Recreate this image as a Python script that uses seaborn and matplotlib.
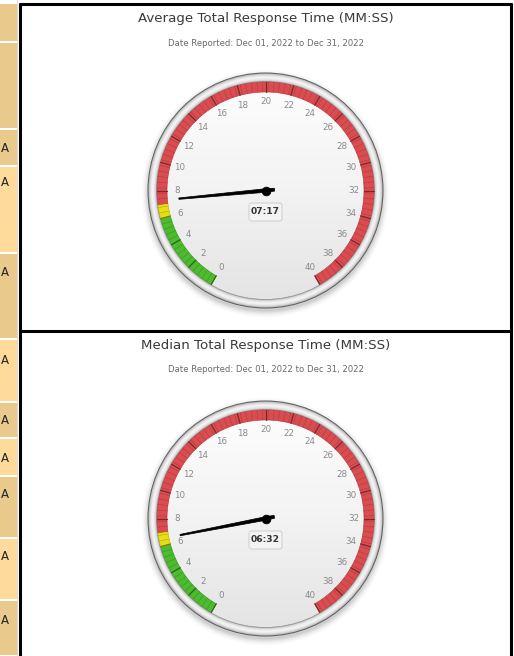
import numpy as np
import matplotlib
matplotlib.use("Agg")
import matplotlib.pyplot as plt
import seaborn as sns
from matplotlib.patches import Circle, FancyBboxPatch, Rectangle, Polygon

# ---------------- data ----------------
titles = ["Average Total Response Time (MM:SS)", "Median Total Response Time (MM:SS)"]
subtitles = ["Date Reported: Dec 01, 2022 to Dec 31, 2022",
             "Date Reported: Dec 01, 2022 to Dec 31, 2022"]
value_labels = ["07:17", "06:32"]
values_min = [7 + 17 / 60, 6 + 32 / 60]
scale_min, scale_max = 0, 40
tick_values = list(range(0, 41, 2))
band_starts = [0, 6, 7]
band_ends = [6, 7, 40]
band_colors = ["#4cbb2e", "#e6df14", "#dc4b4f"]

# left table strip (cut off)
strip_tops = [4, 43, 130, 167, 254, 340, 403, 439, 477, 539, 601]
strip_bottoms = [42, 129, 166, 253, 339, 402, 438, 476, 538, 600, 656]
strip_colors = ["#e9c98c", "#e9c98c", "#e9c98c", "#ffdb9b", "#e9c98c", "#ffdb9b",
                "#e9c98c", "#ffdb9b", "#e9c98c", "#ffdb9b", "#e9c98c"]
strip_letters = ["", "", "A", "A", "A", "A", "A", "A", "A", "A", "A"]
strip_letter_y = [0, 0, 148, 183, 273, 360, 420, 458, 495, 557, 620]

sns.set_theme(style="white")
plt.rcParams['font.family'] = ['DejaVu Sans']

W, H = 514, 656
fig = plt.figure(figsize=(W / 100, H / 100), dpi=100)
ax = fig.add_axes([0, 0, 1, 1])
ax.set_xlim(0, W)
ax.set_ylim(H, 0)
ax.axis("off")


def ang(v):
    # visual angle (deg, ccw, y up) for value v
    return 240.0 - (v - scale_min) * 300.0 / (scale_max - scale_min)


def pt(cx, cy, r, a):
    t = np.deg2rad(a)
    return cx + r * np.cos(t), cy - r * np.sin(t)


def arc_poly(cx, cy, r1, r2, a1, a2, n=30):
    t = np.linspace(a1, a2, n)
    xo, yo = pt(cx, cy, r2, t)
    xi, yi = pt(cx, cy, r1, t[::-1])
    return np.concatenate([xo, xi]), np.concatenate([yo, yi])


def shade(c, f):
    rgb = np.array(matplotlib.colors.to_rgb(c))
    return tuple(np.clip(rgb * f, 0, 1))


# ---- left strip ----
for top, bot, col, let, ly in zip(strip_tops, strip_bottoms, strip_colors, strip_letters, strip_letter_y):
    ax.add_patch(Rectangle((0, top), 16.5, bot - top - 1, facecolor=col, edgecolor="none", zorder=1))
    if let:
        ax.text(1.0, ly, let, fontsize=8.5, color="#222222", ha="left", va="center", zorder=2)
ax.add_patch(Rectangle((16.5, 0), 1.2, H, facecolor="#d9d9d9", edgecolor="none", zorder=1))

# ---- panel frame ----
ax.plot([20, 20], [3, H], color="black", lw=2.2, zorder=5, solid_capstyle="butt")
ax.plot([510.5, 510.5], [3, H], color="black", lw=2.2, zorder=5, solid_capstyle="butt")
ax.plot([19, 511.5], [3.5, 3.5], color="black", lw=2.2, zorder=5, solid_capstyle="butt")
ax.plot([19, 511.5], [330.5, 330.5], color="black", lw=2.2, zorder=5, solid_capstyle="butt")

panel_tops = [3, 330]
centers = [(265.5, 190.5), (265.5, 518.5)]

for k in range(2):
    cx, cy = centers[k]
    top = panel_tops[k]
    ax.text(265.5, top + 15.5, titles[k], fontsize=9.6, color="#3a3a3a", ha="center", va="center")
    ax.text(265.5, top + 40, subtitles[k], fontsize=6.1, color="#6a6a6a", ha="center", va="center")

    # shadow
    for i, a in enumerate(np.linspace(0.05, 0.01, 6)):
        ax.add_patch(Circle((cx, cy + 3), 118 + i * 1.2, facecolor="#000000", alpha=a,
                            edgecolor="none", zorder=2))
    # outer rim
    ax.add_patch(Circle((cx, cy), 118, facecolor="#5e5e5e", edgecolor="none", zorder=3))
    rim_r = np.linspace(117, 109.5, 9)
    rim_c = ["#bdbdbd", "#d6d6d6", "#e6e6e6", "#efefef", "#f4f4f4", "#eeeeee", "#e2e2e2", "#cfcfcf", "#b8b8b8"]
    for r, c in zip(rim_r, rim_c):
        ax.add_patch(Circle((cx, cy), r, facecolor=c, edgecolor="none", zorder=3))
    # face with gradient
    face = Circle((cx, cy), 109, facecolor="none", edgecolor="#9a9a9a", lw=0.6, zorder=4)
    ax.add_patch(face)
    grad = np.linspace(0, 1, 200)[:, None]
    cmap = matplotlib.colors.LinearSegmentedColormap.from_list("f", ["#fdfdfd", "#f3f3f3", "#e4e4e4"])
    im = ax.imshow(grad, extent=(cx - 109, cx + 109, cy + 109, cy - 109), cmap=cmap,
                   aspect="auto", zorder=3.5, interpolation="bilinear")
    im.set_clip_path(Circle((cx, cy), 108.7, transform=ax.transData))

    # colour bands, segmented
    seg = 0.4
    for s, e, col in zip(band_starts, band_ends, band_colors):
        v = s
        while v < e - 1e-9:
            v2 = min(v + seg, e)
            xs, ys = arc_poly(cx, cy, 98.5, 108.5, ang(v), ang(v2), n=6)
            ax.fill(xs, ys, facecolor=col, edgecolor=shade(col, 0.82), lw=0.45, zorder=5)
            v = v2
    # major ticks on band
    for tv in tick_values:
        for s, e, col in zip(band_starts, band_ends, band_colors):
            if s <= tv <= e:
                c = col
        x1, y1 = pt(cx, cy, 98.5, ang(tv))
        x2, y2 = pt(cx, cy, 108.5, ang(tv))
        ax.plot([x1, x2], [y1, y2], color=shade(c, 0.55), lw=0.9, zorder=6)

    # tick labels
    for tv in tick_values:
        x, y = pt(cx, cy, 88.5, ang(tv))
        ax.text(x, y, str(tv), fontsize=6.3, color="#8a8a8a", ha="center", va="center", zorder=7)

    # value box
    ax.add_patch(FancyBboxPatch((cx - 16.5, cy + 12.5), 33, 18,
                                boxstyle="round,pad=0,rounding_size=2.5",
                                facecolor="#f3f3f3", edgecolor="#d2d2d2", lw=0.8, zorder=7))
    ax.text(cx, cy + 21.5, value_labels[k], fontsize=6.6, fontweight="bold", color="#333333",
            ha="center", va="center", zorder=8)

    # needle
    a = ang(values_min[k])
    tx, ty = pt(cx, cy, 87, a)
    bx, by = pt(cx, cy, 9, a + 180)
    px_, py_ = pt(0, 0, 1.8, a + 90)
    qx_, qy_ = pt(0, 0, 0.7, a + 90)
    pts = [(tx + qx_, ty + qy_), (cx + px_, cy + py_), (bx + px_ * 0.8, by + py_ * 0.8),
           (bx - px_ * 0.8, by - py_ * 0.8), (cx - px_, cy - py_), (tx - qx_, ty - qy_)]
    ax.add_patch(Polygon(pts, closed=True, facecolor="black", edgecolor="black", lw=0.5, zorder=9))
    sns.scatterplot(x=[cx], y=[cy], s=40, color="black", edgecolor="black", ax=ax, zorder=10, legend=False)

ax.set_xlim(0, W)
ax.set_ylim(H, 0)
fig.savefig("out.png", dpi=100)
